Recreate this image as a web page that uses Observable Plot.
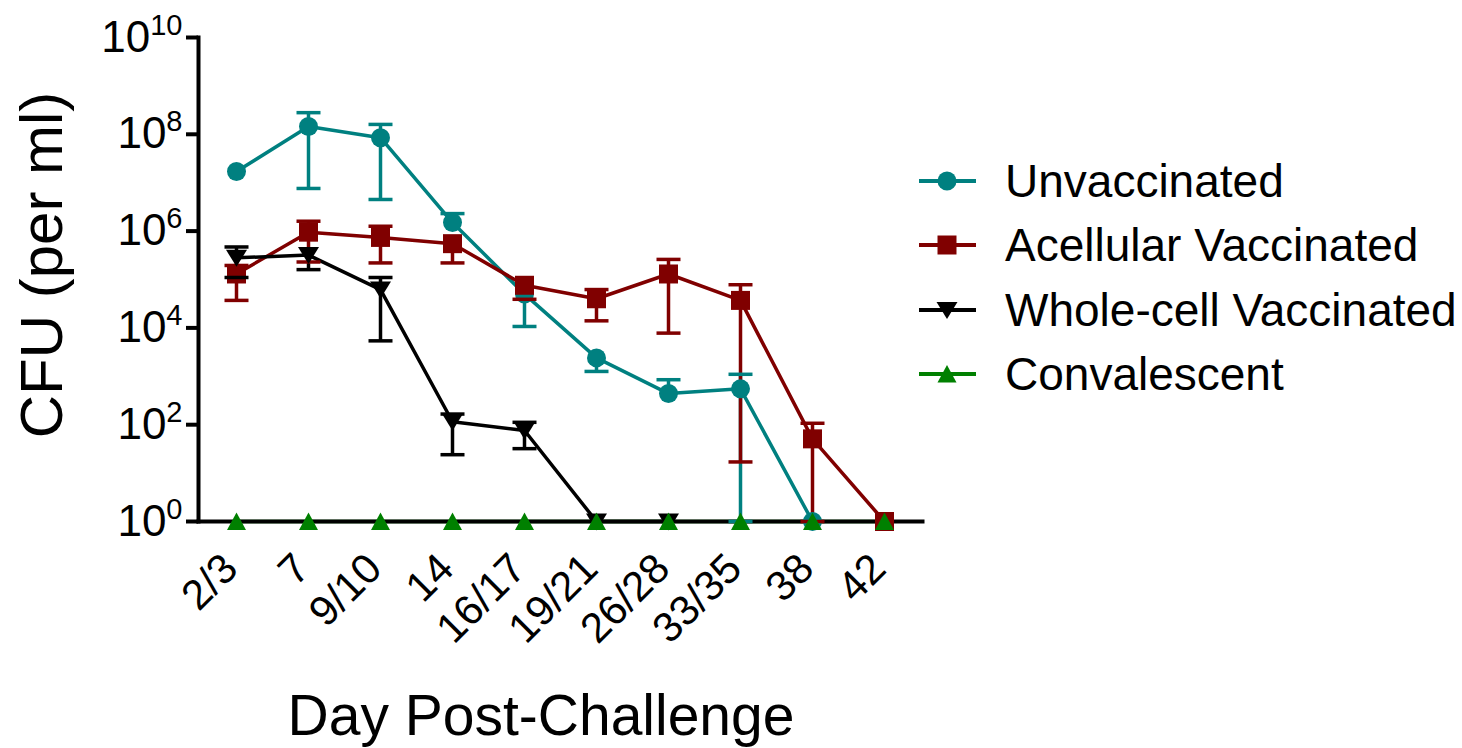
<!DOCTYPE html>
<html>
<head>
<meta charset="utf-8">
<script src="https://cdn.jsdelivr.net/npm/d3@7"></script>
<script src="https://cdn.jsdelivr.net/npm/@observablehq/plot@0.6"></script>
<style>
  html, body { margin: 0; padding: 0; background: #fff; }
  #chart { width: 1462px; height: 748px; }
</style>
</head>
<body>
<div id="chart"></div>
<script>
// ---- data ----
const days = ["2/3", "7", "9/10", "14", "16/17", "19/21", "26/28", "33/35", "38", "42"];
const seriesNames = ["Unvaccinated", "Acellular Vaccinated", "Whole-cell Vaccinated", "Convalescent"];
const seriesColors = ["#008080", "#800000", "#000000", "#008000"];
const yTicks = [1, 1e2, 1e4, 1e6, 1e8, 1e10];

// Unvaccinated (mean, lower error, upper error), CFU per ml
const unvacMean = [1.7e7, 1.45e8, 8.5e7, 1.5e6, 5.0e4, 2.4e3, 440, 550, 1, null];
const unvacLow  = [null, 7.6e6, 4.5e6, null, 1.07e4, 1.26e3, null, 1, null, null];
const unvacHigh = [null, 2.8e8, 1.6e8, 2.3e6, null, null, 850, 1.1e3, null, null];

// Acellular Vaccinated
const acelMean = [1.3e5, 9.5e5, 7.4e5, 5.5e5, 7.6e4, 4.0e4, 1.3e5, 3.7e4, 51, 1];
const acelLow  = [3.7e4, 2.3e5, 2.2e5, 2.2e5, 3.9e4, 1.4e4, 7.8e3, 17, 1, null];
const acelHigh = [1.95e5, 1.6e6, 1.26e6, null, null, 6.2e4, 2.6e5, 7.8e4, 107, null];

// Whole-cell Vaccinated
const wholeMean = [2.8e5, 3.2e5, 6.2e4, 115, 76, 1, 1, null, null, null];
const wholeLow  = [1.1e5, 1.6e5, 5.4e3, 24, 32, null, null, null, null, null];
const wholeHigh = [4.7e5, null, 1.1e5, 166, 112, null, null, null, null, null];

// Convalescent
const convMean = [1, 1, 1, 1, 1, 1, 1, 1, 1, 1];

// ---- build table ----
const means = [unvacMean, acelMean, wholeMean, convMean];
const lows = [unvacLow, acelLow, wholeLow, null];
const highs = [unvacHigh, acelHigh, wholeHigh, null];
const rows = [];
seriesNames.forEach((s, si) => {
  days.forEach((d, i) => {
    rows.push({
      series: s, si, day: d,
      mean: means[si][i],
      low: lows[si] ? lows[si][i] : null,
      high: highs[si] ? highs[si][i] : null
    });
  });
});

// marker shapes
const symCircle = {draw(ctx) { ctx.moveTo(9.5, 0); ctx.arc(0, 0, 9.5, 0, 2 * Math.PI); }};
const symSquare = {draw(ctx) { ctx.rect(-9.5, -9.5, 19, 19); }};
const symDown = {draw(ctx) { ctx.moveTo(-10.5, -8); ctx.lineTo(10.5, -8); ctx.lineTo(0, 9); ctx.closePath(); }};
const symUp = {draw(ctx) { ctx.moveTo(0, -9); ctx.lineTo(9.5, 8.5); ctx.lineTo(-9.5, 8.5); ctx.closePath(); }};
const symCap = {draw(ctx) { ctx.moveTo(-12, 0); ctx.lineTo(12, 0); }};
const symbols = [symCircle, symSquare, symDown, symUp];

const lineMarks = [];
const pointMarks = [];
seriesNames.forEach((s, si) => {
  const data = rows.filter(r => r.si === si);
  const col = seriesColors[si];
  const withErr = data.filter(r => r.mean != null && (r.low != null || r.high != null));
  lineMarks.push(Plot.line(data, {x: "day", y: "mean", stroke: col, strokeWidth: 3.5}));
  lineMarks.push(Plot.ruleX(withErr, {x: "day", y1: r => r.low ?? r.mean, y2: r => r.high ?? r.mean, stroke: col, strokeWidth: 3.5}));
  pointMarks.push(Plot.dot(withErr.filter(r => r.low != null), {x: "day", y: "low", symbol: symCap, r: 8, fill: "none", stroke: col, strokeWidth: 3.5}));
  pointMarks.push(Plot.dot(withErr.filter(r => r.high != null), {x: "day", y: "high", symbol: symCap, r: 8, fill: "none", stroke: col, strokeWidth: 3.5}));
  pointMarks.push(Plot.dot(data.filter(r => r.mean != null), {x: "day", y: "mean", symbol: symbols[si], r: 8, fill: col, stroke: "none"}));
});

const chart = Plot.plot({
  width: 1462,
  height: 748,
  marginLeft: 198,
  marginRight: 540,
  marginTop: 37,
  marginBottom: 227,
  style: {fontFamily: "'Liberation Sans', Arial, sans-serif", background: "#fff", color: "#000"},
  x: {type: "point", domain: days, padding: 0.5},
  y: {type: "log", domain: [1, 1e10]},
  marks: [
    Plot.axisY({ticks: yTicks, tickSize: 12, tickPadding: 4, strokeWidth: 4, fontSize: 44,
      tickFormat: d => String(Math.round(Math.log10(d))), label: null}),
    Plot.axisX({tickSize: 6, strokeWidth: 4, tickFormat: () => "", label: null}),
    Plot.axisX({tickSize: 0, tickPadding: 40, dx: -6, fontSize: 42, tickRotate: -45, label: null}),
    ...lineMarks,
    Plot.frame({anchor: "left", strokeWidth: 4}),
    Plot.frame({anchor: "bottom", strokeWidth: 4}),
    ...pointMarks
  ]
});
document.getElementById("chart").appendChild(chart);

// superscript exponents on y tick labels
const svg = d3.select(chart.tagName.toLowerCase() === "svg" ? chart : chart.querySelector("svg"));
svg.selectAll('g[aria-label="y-axis tick label"] text').each(function() {
  const t = d3.select(this);
  const exp = t.text();
  t.text("");
  t.append("tspan").text("10");
  t.append("tspan").attr("font-size", 29).attr("dy", -17).text(exp);
});

// axis titles
svg.append("text")
  .attr("transform", "translate(62,265) rotate(-90)")
  .attr("text-anchor", "middle")
  .attr("font-size", 60)
  .attr("fill", "#000")
  .text("CFU (per ml)");
svg.append("text")
  .attr("x", 541).attr("y", 735)
  .attr("text-anchor", "middle")
  .attr("font-size", 57)
  .attr("fill", "#000")
  .text("Day Post-Challenge");

// legend
const legendY = [181, 245, 310, 374];
seriesNames.forEach((s, i) => {
  const g = svg.append("g").attr("transform", `translate(0,${legendY[i]})`);
  g.append("line").attr("x1", 919).attr("x2", 976).attr("y1", 0).attr("y2", 0)
    .attr("stroke", seriesColors[i]).attr("stroke-width", 4);
  const p = d3.path();
  symbols[i].draw(p);
  g.append("path").attr("d", p.toString()).attr("transform", "translate(947,0)").attr("fill", seriesColors[i]);
  g.append("text").attr("x", 1005).attr("y", 0).attr("dy", "0.35em")
    .attr("text-anchor", "start")
    .attr("font-size", 46).attr("fill", "#000").text(s);
});
</script>
</body>
</html>
